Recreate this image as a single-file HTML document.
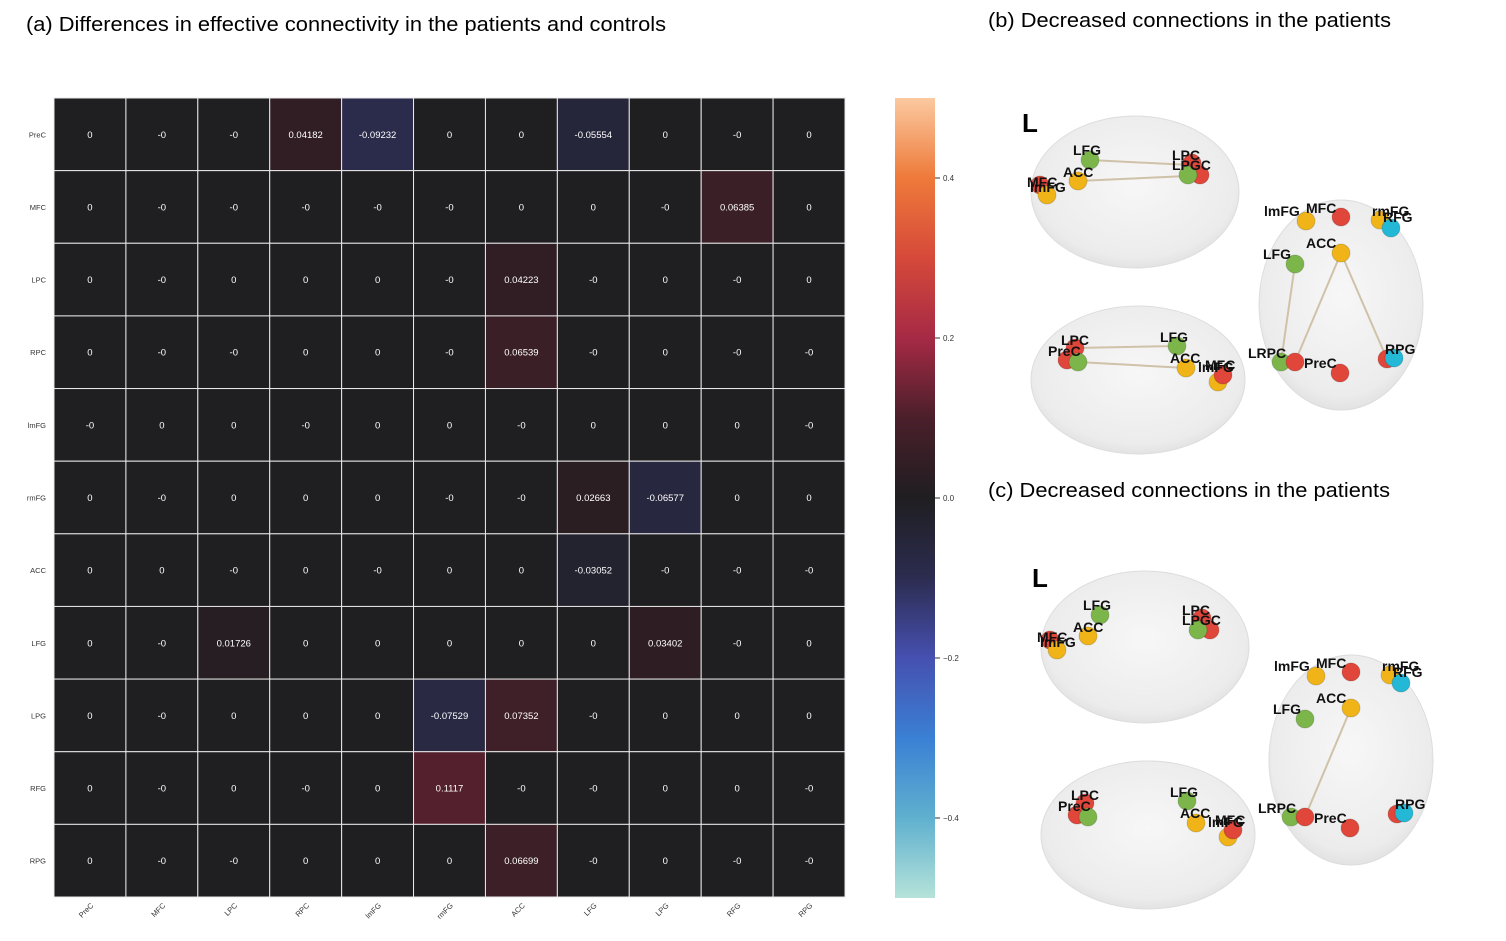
<!DOCTYPE html>
<html><head><meta charset="utf-8"><style>
body{margin:0;background:#fff;width:1506px;height:941px;overflow:hidden;font-family:"Liberation Sans",Arial,sans-serif}
svg{position:absolute;left:0;top:0}
</style></head><body>
<svg id="fig" width="1506" height="941" xmlns="http://www.w3.org/2000/svg">
<defs>
<linearGradient id="cb" x1="0" y1="1" x2="0" y2="0">
<stop offset="0" stop-color="#b5e3d9"/><stop offset="0.1" stop-color="#5fb0cf"/><stop offset="0.2" stop-color="#3a80d4"/><stop offset="0.3" stop-color="#4650b0"/><stop offset="0.4" stop-color="#2c2c50"/><stop offset="0.5" stop-color="#1f1e21"/><stop offset="0.6" stop-color="#4a1f2a"/><stop offset="0.7" stop-color="#a62a45"/><stop offset="0.8" stop-color="#d6493a"/><stop offset="0.9" stop-color="#ee7a3a"/><stop offset="1" stop-color="#fbc9a0"/>
</linearGradient>
<radialGradient id="brain" cx="0.5" cy="0.45" r="0.6"><stop offset="0" stop-color="#f7f7f7"/><stop offset="0.8" stop-color="#ececec"/><stop offset="1" stop-color="#dcdcdc"/></radialGradient>
</defs>
<text x="26" y="31" font-size="20" textLength="640" lengthAdjust="spacingAndGlyphs" fill="#000">(a) Differences in effective connectivity in the patients and controls</text>
<text x="988" y="27" font-size="20" textLength="403" lengthAdjust="spacingAndGlyphs" fill="#000">(b) Decreased connections in the patients</text>
<text x="988" y="497" font-size="20" textLength="402" lengthAdjust="spacingAndGlyphs" fill="#000">(c) Decreased connections in the patients</text>
<g id="heat"></g>
<g id="cbar"></g>
<g id="brains"></g>
</svg>
<script>
const labels=["PreC","MFC","LPC","RPC","lmFG","rmFG","ACC","LFG","LPG","RFG","RPG"];
const rowPreC=["0","-0","-0","0.04182","-0.09232","0","0","-0.05554","0","-0","0"];
const rowMFC=["0","-0","-0","-0","-0","-0","0","0","-0","0.06385","0"];
const rowLPC=["0","-0","0","0","0","-0","0.04223","-0","0","-0","0"];
const rowRPC=["0","-0","-0","0","0","-0","0.06539","-0","0","-0","-0"];
const rowlmFG=["-0","0","0","-0","0","0","-0","0","0","0","-0"];
const rowrmFG=["0","-0","0","0","0","-0","-0","0.02663","-0.06577","0","0"];
const rowACC=["0","0","-0","0","-0","0","0","-0.03052","-0","-0","-0"];
const rowLFG=["0","-0","0.01726","0","0","0","0","0","0.03402","-0","0"];
const rowLPG=["0","-0","0","0","0","-0.07529","0.07352","-0","0","0","0"];
const rowRFG=["0","-0","0","-0","0","0.1117","-0","-0","0","0","-0"];
const rowRPG=["0","-0","-0","0","0","0","0.06699","-0","0","-0","-0"];
const matrix=[rowPreC,rowMFC,rowLPC,rowRPC,rowlmFG,rowrmFG,rowACC,rowLFG,rowLPG,rowRFG,rowRPG];
const cbTicks=[0.4,0.2,0.0,-0.2,-0.4];
const cbTickLabels=["0.4","0.2","0.0","\u22120.2","\u22120.4"];

const NS="http://www.w3.org/2000/svg";
function mk(t,a,p){const e=document.createElementNS(NS,t);for(const k in a)e.setAttribute(k,a[k]);p.appendChild(e);return e;}
const X0=54,X1=845,Y0=98,Y1=897,n=labels.length;
const cw=(X1-X0)/n,ch=(Y1-Y0)/n;
const xPos=i=>X0+i*cw, yPos=i=>Y0+i*ch;
const stops=[[-0.5,[181,227,217]],[-0.4,[95,176,207]],[-0.3,[58,128,212]],[-0.2,[70,80,176]],[-0.1,[44,44,80]],[0,[31,30,33]],[0.1,[74,31,42]],[0.2,[166,42,69]],[0.3,[214,73,58]],[0.4,[238,122,58]],[0.5,[251,201,160]]];
function color(v){v=Math.max(-0.5,Math.min(0.5,v));for(let i=0;i<stops.length-1;i++){const[a,ca]=stops[i],[b,cb]=stops[i+1];if(v<=b){const t=(v-a)/(b-a);return"rgb("+ca.map((c,j)=>Math.round(c+(cb[j]-c)*t)).join(",")+")";}}return"#000";}
const heat=document.getElementById('heat');
matrix.forEach((row,r)=>row.forEach((s,c)=>{
  const v=parseFloat(s);
  const rect=mk('rect',{x:xPos(c),y:yPos(r),width:cw,height:ch,fill:color(v),stroke:'#e8e8e8','stroke-width':1},heat);
  
  
  const t=mk('text',{x:xPos(c)+cw/2,y:yPos(r)+ch/2+3.5,'font-size':9.5,fill:'#fff','text-anchor':'middle'},heat);
  t.textContent=s;
  
  
}));
labels.forEach((l,i)=>{
  const t=mk('text',{x:46,y:yPos(i)+ch/2+3,'font-size':7.5,fill:'#333','text-anchor':'end'},heat);
  t.textContent=l;
  
  
  const cx=xPos(i)+cw/2+4,cy=906;
  const u=mk('text',{x:cx,y:cy,'font-size':7.5,fill:'#333','text-anchor':'end',transform:`rotate(-45 ${cx} ${cy})`},heat);
  u.textContent=l;
  
  
});
const cbar=document.getElementById('cbar');
const CB0=98,CB1=898,cbY=v=>CB0+(0.5-v)/1.0*(CB1-CB0);
const cr=mk('rect',{x:895,y:CB0,width:40,height:CB1-CB0,fill:'url(#cb)'},cbar);


cbTicks.forEach((v,i)=>{
  mk('line',{x1:935,x2:940,y1:cbY(v),y2:cbY(v),stroke:'#333','stroke-width':1},cbar);
  const t=mk('text',{x:943,y:cbY(v)+3,'font-size':8,fill:'#333'},cbar);
  t.textContent=cbTickLabels[i];
  
  
});
const B=document.getElementById('brains');
const col={r:'#e0463a',g:'#7cb64a',y:'#f0b418',c:'#23b8d6'};
function panel(dx,dy,lines){
  const g=mk('g',{transform:`translate(${dx},${dy})`},B);
  
  
  mk('ellipse',{cx:1135,cy:192,rx:104,ry:76,fill:'url(#brain)',stroke:'#ddd'},g);
  mk('ellipse',{cx:1138,cy:380,rx:107,ry:74,fill:'url(#brain)',stroke:'#ddd'},g);
  mk('ellipse',{cx:1341,cy:305,rx:82,ry:105,fill:'url(#brain)',stroke:'#ddd'},g);
  const L=mk('text',{x:1022,y:132,'font-size':26,'font-weight':'bold',fill:'#000'},g);L.textContent='L';
  lines.forEach(l=>mk('line',{x1:l[0],y1:l[1],x2:l[2],y2:l[3],stroke:'#cfc2a8','stroke-width':2},g));
  const nodes=[[1040,185,'r'],[1047,195,'y'],[1078,181,'y'],[1090,160,'g'],[1192,163,'r'],[1200,175,'r'],[1188,175,'g'],
   [1306,221,'y'],[1341,217,'r'],[1380,220,'y'],[1391,228,'c'],[1341,253,'y'],[1295,264,'g'],[1281,362,'g'],[1295,362,'r'],[1340,373,'r'],[1387,359,'r'],[1394,358,'c'],
   [1067,360,'r'],[1075,348,'r'],[1078,362,'g'],[1177,346,'g'],[1186,368,'y'],[1218,382,'y'],[1223,375,'r']];
  nodes.forEach(p=>mk('circle',{cx:p[0],cy:p[1],r:9,fill:col[p[2]],stroke:'rgba(0,0,0,0.15)'},g));
  const txt=[[1027,187,'MFC'],[1030,192,'lmFG'],[1063,177,'ACC'],[1073,155,'LFG'],[1172,160,'LPC'],[1172,170,'LPGC'],
   [1264,216,'lmFG'],[1306,213,'MFC'],[1372,216,'rmFG'],[1383,222,'RFG'],[1306,248,'ACC'],[1263,259,'LFG'],[1248,358,'LRPC'],[1304,368,'PreC'],[1385,354,'RPG'],
   [1048,356,'PreC'],[1061,345,'LPC'],[1160,342,'LFG'],[1170,363,'ACC'],[1198,372,'lmFG'],[1205,370,'MFC']];
  txt.forEach(t=>{const e=mk('text',{x:t[0],y:t[1],'font-size':14,'font-weight':'bold',fill:'#111'},g);e.textContent=t[2];
    });
}
panel(0,0,[[1090,160,1190,165],[1078,181,1188,176],[1295,264,1281,362],[1341,253,1295,362],[1341,253,1387,359],[1075,348,1177,346],[1078,362,1186,368]]);
panel(10,455,[[1341,253,1295,362]]);
</script>
</body></html>
